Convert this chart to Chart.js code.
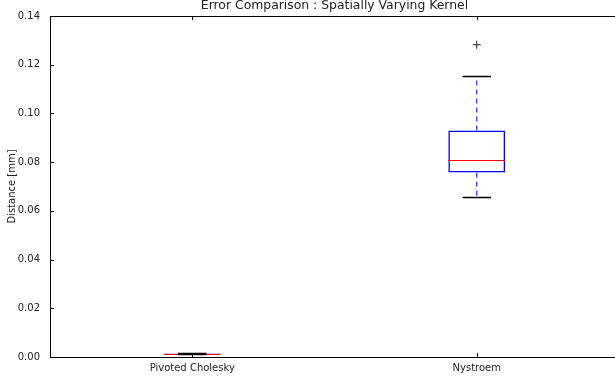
<!DOCTYPE html>
<html lang="en">
<head>
    <meta charset="UTF-8">
    <title>Error Comparison</title>
    <script src="https://cdn.jsdelivr.net/npm/chart.js"></script>
    <style>
        html, body { margin:0; padding:0; overflow:hidden; background:#fff; }
        #wrap { width:624px; height:378px; }
    </style>
</head>
<body>
    <div id="wrap"><canvas id="myChart"></canvas></div>

    <script>
        // box plot data
        const categories = ['Pivoted Cholesky', 'Nystroem'];
        const whiskerLow = [0.0011, 0.0655];
        const q1 = [0.0012, 0.0757];
        const median = [0.0013, 0.0810];
        const q3 = [0.0014, 0.0930];
        const whiskerHigh = [0.0015, 0.1152];
        const outliers = [null, 0.1282];
        const yTicks = [0, 0.02, 0.04, 0.06, 0.08, 0.10, 0.12, 0.14];

        const FONT = 'DejaVu Sans';
        const TXT = '#222';

        // whiskers, caps, medians, frame, inward ticks
        const boxPlugin = {
            id: 'boxExtras',
            afterDatasetsDraw(chart) {
                const ctx = chart.ctx;
                const x = chart.scales.x, y = chart.scales.y;
                const a = chart.chartArea;
                const step = x.getPixelForValue(1) - x.getPixelForValue(0);
                const boxHalf = step * 0.1, capHalf = step * 0.05;
                ctx.save();
                categories.forEach((c, i) => {
                    const cx = x.getPixelForValue(i);
                    // dashed whiskers
                    ctx.strokeStyle = '#0000ff';
                    ctx.lineWidth = 1;
                    ctx.setLineDash([5, 4]);
                    ctx.beginPath();
                    ctx.moveTo(cx, y.getPixelForValue(q3[i]));
                    ctx.lineTo(cx, y.getPixelForValue(whiskerHigh[i]));
                    ctx.moveTo(cx, y.getPixelForValue(q1[i]));
                    ctx.lineTo(cx, y.getPixelForValue(whiskerLow[i]));
                    ctx.stroke();
                    ctx.setLineDash([]);
                    // median
                    ctx.strokeStyle = '#ff0000';
                    ctx.beginPath();
                    const my = Math.round(y.getPixelForValue(median[i])) + 0.5;
                    ctx.moveTo(cx - boxHalf, my);
                    ctx.lineTo(cx + boxHalf, my);
                    ctx.stroke();
                    // caps
                    ctx.strokeStyle = '#000';
                    ctx.lineWidth = 1.5;
                    ctx.beginPath();
                    [whiskerLow[i], whiskerHigh[i]].forEach(v => {
                        const py = Math.round(y.getPixelForValue(v)) + 0.5;
                        ctx.moveTo(cx - capHalf, py);
                        ctx.lineTo(cx + capHalf, py);
                    });
                    ctx.stroke();
                });
                // frame
                ctx.strokeStyle = '#000';
                ctx.lineWidth = 1;
                ctx.strokeRect(Math.round(a.left) + 0.5, Math.round(a.top) + 0.5,
                    Math.round(a.right - a.left), Math.round(a.bottom - a.top));
                // inward ticks
                ctx.beginPath();
                yTicks.forEach(v => {
                    const py = Math.round(y.getPixelForValue(v)) + 0.5;
                    ctx.moveTo(a.left, py); ctx.lineTo(a.left + 4, py);
                    ctx.moveTo(a.right, py); ctx.lineTo(a.right - 4, py);
                });
                categories.forEach((c, i) => {
                    const px = Math.round(x.getPixelForValue(i)) + 0.5;
                    ctx.moveTo(px, a.top); ctx.lineTo(px, a.top + 4);
                    ctx.moveTo(px, a.bottom); ctx.lineTo(px, a.bottom - 4);
                });
                ctx.stroke();
                // title
                ctx.fillStyle = TXT;
                ctx.font = '12.4px "' + FONT + '"';
                ctx.textAlign = 'center';
                ctx.textBaseline = 'middle';
                ctx.fillText('Error Comparison : Spatially Varying Kernel', (a.left + a.right) / 2, 6);
                ctx.restore();
            }
        };

        const ctx = document.querySelector('#myChart').getContext('2d');
        const myChart = new Chart(ctx, {
            type: 'bar',
            data: {
                labels: categories,
                datasets: [{
                    type: 'bar',
                    data: q1.map((v, i) => [v, q3[i]]),
                    backgroundColor: 'rgba(0,0,0,0)',
                    borderColor: '#0000ff',
                    borderWidth: 1.5,
                    borderSkipped: false,
                    barPercentage: 0.2,
                    categoryPercentage: 1
                }, {
                    type: 'line',
                    data: outliers,
                    showLine: false,
                    pointStyle: 'cross',
                    pointRadius: 4,
                    borderColor: '#222',
                    borderWidth: 1
                }]
            },
            options: {
                responsive: true,
                maintainAspectRatio: false,
                animation: false,
                layout: { padding: { top: 15, right: 4, left: 0, bottom: 0 } },
                plugins: { legend: { display: false }, tooltip: { enabled: false }, title: { display: false } },
                scales: {
                    x: {
                        offset: true,
                        grid: { display: false, drawTicks: false },
                        border: { display: false },
                        ticks: { color: TXT, font: { family: FONT, size: 10 }, padding: 5, maxRotation: 0 },
                        afterFit(s) { s.height = 21; }
                    },
                    y: {
                        min: 0, max: 0.14,
                        afterBuildTicks(s) { s.ticks = yTicks.map(v => ({ value: v })); },
                        grid: { display: false, drawTicks: false },
                        border: { display: false },
                        ticks: {
                            color: TXT, font: { family: FONT, size: 10 }, padding: 10,
                            callback: v => v.toFixed(2)
                        },
                        title: { display: true, text: 'Distance [mm]', color: TXT, font: { family: FONT, size: 10 }, padding: { top: 6, bottom: 0 } },
                        afterFit(s) { s.width = 50; }
                    }
                }
            },
            plugins: [boxPlugin]
        });
    </script>
</body>
</html>
